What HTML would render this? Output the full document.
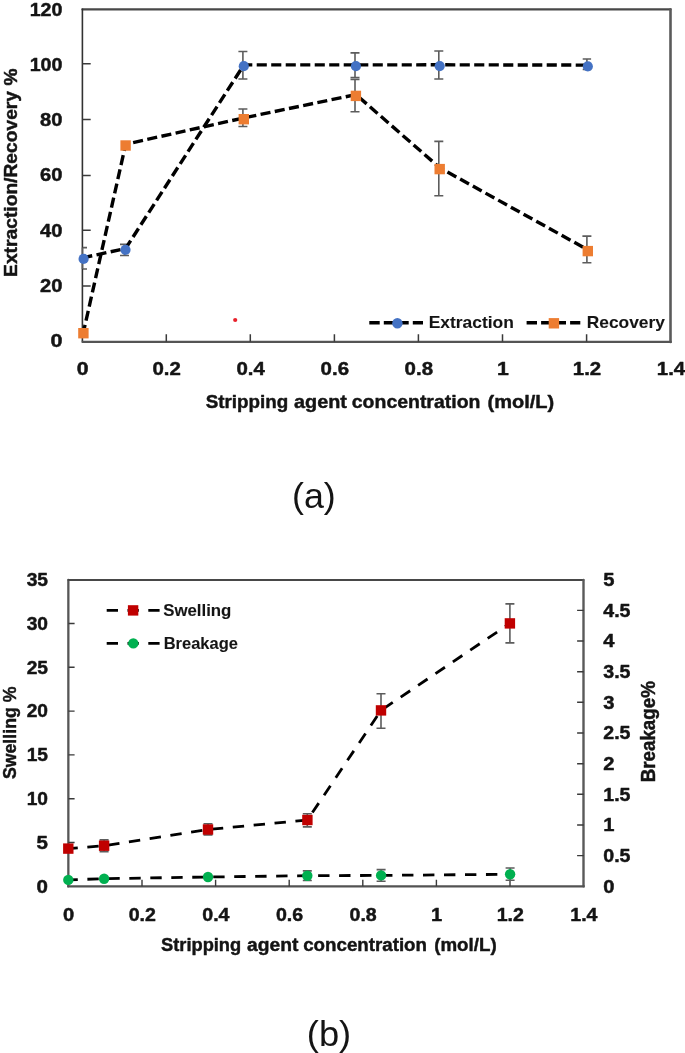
<!DOCTYPE html>
<html><head><meta charset="utf-8"><title>Figure</title>
<style>html,body{margin:0;padding:0;background:#fff}svg{display:block;filter:blur(0.65px)}text{font-family:"Liberation Sans",sans-serif;fill:#141414}text[font-weight=bold]{stroke:#141414;stroke-width:.45px;stroke-linejoin:round}</style>
</head><body>
<svg width="685" height="1053" viewBox="0 0 685 1053">
<rect width="685" height="1053" fill="#fff"/>
<g id="chartA">
<path d="M82.4 9.4H670.5" stroke="#484848" stroke-width="2.1" fill="none" stroke-linecap="round"/>
<path d="M670.5 9.4V341.9" stroke="#5a5a5a" stroke-width="2.6" fill="none" stroke-linecap="round"/>
<path d="M82.4 8.4V341.7" stroke="#323232" stroke-width="1.6" fill="none"/>
<path d="M81.6 341.9H671.7" stroke="#545454" stroke-width="2.4" fill="none"/>
<path d="M82.4 286.1h8.3M82.4 230.2h8.3M82.4 175.6h8.3M82.4 119.6h8.3M82.4 63.7h8.3M166.3 341.7v-7.5M250.3 341.7v-7.5M334.4 341.7v-7.5M418.4 341.7v-7.5M502.5 341.7v-7.5M586.6 341.7v-7.5" stroke="#3a3a3a" stroke-width="1.5" fill="none"/>
<text x="62.5" y="347.4" font-size="17.8" font-weight="bold" text-anchor="end" textLength="12.0" lengthAdjust="spacingAndGlyphs">0</text>
<text x="62.5" y="292.0" font-size="17.8" font-weight="bold" text-anchor="end" textLength="22.4" lengthAdjust="spacingAndGlyphs">20</text>
<text x="62.5" y="236.7" font-size="17.8" font-weight="bold" text-anchor="end" textLength="22.4" lengthAdjust="spacingAndGlyphs">40</text>
<text x="62.5" y="181.3" font-size="17.8" font-weight="bold" text-anchor="end" textLength="22.4" lengthAdjust="spacingAndGlyphs">60</text>
<text x="62.5" y="126.0" font-size="17.8" font-weight="bold" text-anchor="end" textLength="22.4" lengthAdjust="spacingAndGlyphs">80</text>
<text x="62.5" y="70.6" font-size="17.8" font-weight="bold" text-anchor="end" textLength="32.8" lengthAdjust="spacingAndGlyphs">100</text>
<text x="62.5" y="16.0" font-size="17.8" font-weight="bold" text-anchor="end" textLength="32.8" lengthAdjust="spacingAndGlyphs">120</text>
<text x="82.6" y="374.8" font-size="17.8" font-weight="bold" text-anchor="middle" textLength="11.8" lengthAdjust="spacingAndGlyphs">0</text>
<text x="166.7" y="374.8" font-size="17.8" font-weight="bold" text-anchor="middle" textLength="28.4" lengthAdjust="spacingAndGlyphs">0.2</text>
<text x="250.7" y="374.8" font-size="17.8" font-weight="bold" text-anchor="middle" textLength="28.4" lengthAdjust="spacingAndGlyphs">0.4</text>
<text x="334.8" y="374.8" font-size="17.8" font-weight="bold" text-anchor="middle" textLength="28.4" lengthAdjust="spacingAndGlyphs">0.6</text>
<text x="418.8" y="374.8" font-size="17.8" font-weight="bold" text-anchor="middle" textLength="28.4" lengthAdjust="spacingAndGlyphs">0.8</text>
<text x="502.9" y="374.8" font-size="17.8" font-weight="bold" text-anchor="middle" textLength="11.8" lengthAdjust="spacingAndGlyphs">1</text>
<text x="587.0" y="374.8" font-size="17.8" font-weight="bold" text-anchor="middle" textLength="28.4" lengthAdjust="spacingAndGlyphs">1.2</text>
<text x="671.0" y="374.8" font-size="17.8" font-weight="bold" text-anchor="middle" textLength="28.4" lengthAdjust="spacingAndGlyphs">1.4</text>
<text x="205.7" y="408.2" font-size="19.0" font-weight="bold" text-anchor="start" textLength="82.5" lengthAdjust="spacingAndGlyphs">Stripping</text>
<text x="294.0" y="408.2" font-size="19.0" font-weight="bold" text-anchor="start" textLength="52.9" lengthAdjust="spacingAndGlyphs">agent</text>
<text x="351.8" y="408.2" font-size="19.0" font-weight="bold" text-anchor="start" textLength="128.6" lengthAdjust="spacingAndGlyphs">concentration</text>
<text x="487.5" y="408.2" font-size="19.0" font-weight="bold" text-anchor="start" textLength="66.7" lengthAdjust="spacingAndGlyphs">(mol/L)</text>
<text transform="translate(17.0 276.9) rotate(-90)" font-size="18.6" font-weight="bold" textLength="208.4" lengthAdjust="spacingAndGlyphs">Extraction/Recovery %</text>
<path d="M82.5 247.6V269.0M83.0 247.6H87.0M83.0 269.0H87.0" stroke="#5c5c5c" stroke-width="1.6" fill="none"/>
<path d="M124.5 244.4V255.5M120.0 244.4H129.0M120.0 255.5H129.0" stroke="#5c5c5c" stroke-width="1.6" fill="none"/>
<path d="M242.9 51.5V79.0M238.4 51.5H247.4M238.4 79.0H247.4" stroke="#5c5c5c" stroke-width="1.6" fill="none"/>
<path d="M355.0 52.9V77.6M350.5 52.9H359.5M350.5 77.6H359.5" stroke="#5c5c5c" stroke-width="1.6" fill="none"/>
<path d="M438.8 51.0V79.0M434.3 51.0H443.3M434.3 79.0H443.3" stroke="#5c5c5c" stroke-width="1.6" fill="none"/>
<path d="M586.9 59.0V69.5M582.7 59.0H591.1M582.7 69.5H591.1" stroke="#5c5c5c" stroke-width="1.6" fill="none"/>
<path d="M242.9 109.0V126.5M238.4 109.0H247.4M238.4 126.5H247.4" stroke="#5c5c5c" stroke-width="1.6" fill="none"/>
<path d="M355.0 79.5V111.8M350.5 79.5H359.5M350.5 111.8H359.5" stroke="#5c5c5c" stroke-width="1.6" fill="none"/>
<path d="M438.8 141.4V195.7M434.3 141.4H443.3M434.3 195.7H443.3" stroke="#5c5c5c" stroke-width="1.6" fill="none"/>
<path d="M586.9 236.1V262.8M582.4 236.1H591.4M582.4 262.8H591.4" stroke="#5c5c5c" stroke-width="1.6" fill="none"/>
<polyline points="83.2,258.9 125.1,249.8 243.4,66.2 355.5,66.2 439.3,66.1 587.4,66.4" transform="translate(0.5 -1.3)" fill="none" stroke="#000" stroke-width="3.4" stroke-dasharray="10.1 4.4" stroke-dashoffset="1.4" stroke-linejoin="round"/>
<polyline points="83.0,333.2 125.2,145.5 243.4,119.2 355.5,95.9 439.3,169.1 587.4,251.1" transform="translate(0.5 -1.3)" fill="none" stroke="#000" stroke-width="3.4" stroke-dasharray="10.1 4.4" stroke-dashoffset="3.0" stroke-linejoin="round"/>
<circle cx="83.6" cy="258.9" r="5.1" fill="#4472c4"/>
<circle cx="125.5" cy="249.8" r="5.1" fill="#4472c4"/>
<circle cx="243.8" cy="66.2" r="5.1" fill="#4472c4"/>
<circle cx="355.9" cy="66.2" r="5.1" fill="#4472c4"/>
<circle cx="439.7" cy="66.1" r="5.1" fill="#4472c4"/>
<circle cx="587.8" cy="66.4" r="5.1" fill="#4472c4"/>
<rect x="78.2" y="328.0" width="10.4" height="10.4" fill="#ed7d31"/>
<rect x="120.4" y="140.3" width="10.4" height="10.4" fill="#ed7d31"/>
<rect x="238.6" y="114.0" width="10.4" height="10.4" fill="#ed7d31"/>
<rect x="350.7" y="90.7" width="10.4" height="10.4" fill="#ed7d31"/>
<rect x="434.5" y="163.9" width="10.4" height="10.4" fill="#ed7d31"/>
<rect x="582.6" y="245.9" width="10.4" height="10.4" fill="#ed7d31"/>
<circle cx="235.2" cy="320" r="2.1" fill="#e8212b"/>
<path d="M369.3 322.8H423" stroke="#000" stroke-width="3.4" stroke-dasharray="10.4 4.1" fill="none"/>
<circle cx="397.4" cy="323.3" r="5.2" fill="#4472c4"/>
<text x="428.7" y="328.1" font-size="17" font-weight="bold" text-anchor="start" textLength="85.2" lengthAdjust="spacingAndGlyphs" style="stroke-width:.1px">Extraction</text>
<path d="M526.6 322.8H580.3" stroke="#000" stroke-width="3.4" stroke-dasharray="10.4 4.1" fill="none"/>
<rect x="548.7" y="318.1" width="10.4" height="10.4" fill="#ed7d31"/>
<text x="586.7" y="328.1" font-size="17" font-weight="bold" text-anchor="start" textLength="78.2" lengthAdjust="spacingAndGlyphs" style="stroke-width:.1px">Recovery</text>
</g>
<text x="313.9" y="508.2" font-size="35.2" font-weight="normal" text-anchor="middle" textLength="43.8" lengthAdjust="spacingAndGlyphs">(a)</text>
<g id="chartB">
<path d="M68.35 886.3V579.9" stroke="#565656" stroke-width="2.3" fill="none" stroke-linecap="round"/>
<path d="M68.35 579.9H583.5" stroke="#484848" stroke-width="2.0" fill="none" stroke-linecap="round"/>
<path d="M583.5 579.9V886.3" stroke="#5a5a5a" stroke-width="2.4" fill="none" stroke-linecap="round"/>
<path d="M67.2 886.3H584.7" stroke="#525252" stroke-width="2.2" fill="none"/>
<path d="M68.4 842.5h6.2M68.4 798.7h6.2M68.4 754.9h6.2M68.4 711.1h6.2M68.4 667.3h6.2M68.4 623.5h6.2M583.7 855.6h-6.6M583.7 825.0h-6.6M583.7 794.3h-6.6M583.7 763.7h-6.6M583.7 733.0h-6.6M583.7 702.3h-6.6M583.7 671.7h-6.6M583.7 641.0h-6.6M583.7 610.4h-6.6M142.0 886.3v-6.5M215.6 886.3v-6.5M289.2 886.3v-6.5M362.8 886.3v-6.5M436.4 886.3v-6.5M510.0 886.3v-6.5" stroke="#3a3a3a" stroke-width="1.4" fill="none"/>
<text x="48.0" y="892.9" font-size="17.8" font-weight="bold" text-anchor="end" textLength="11.4" lengthAdjust="spacingAndGlyphs">0</text>
<text x="48.0" y="849.0" font-size="17.8" font-weight="bold" text-anchor="end" textLength="11.4" lengthAdjust="spacingAndGlyphs">5</text>
<text x="48.0" y="805.1" font-size="17.8" font-weight="bold" text-anchor="end" textLength="21.3" lengthAdjust="spacingAndGlyphs">10</text>
<text x="48.0" y="761.3" font-size="17.8" font-weight="bold" text-anchor="end" textLength="21.3" lengthAdjust="spacingAndGlyphs">15</text>
<text x="48.0" y="717.4" font-size="17.8" font-weight="bold" text-anchor="end" textLength="21.3" lengthAdjust="spacingAndGlyphs">20</text>
<text x="48.0" y="673.5" font-size="17.8" font-weight="bold" text-anchor="end" textLength="21.3" lengthAdjust="spacingAndGlyphs">25</text>
<text x="48.0" y="629.6" font-size="17.8" font-weight="bold" text-anchor="end" textLength="21.3" lengthAdjust="spacingAndGlyphs">30</text>
<text x="48.0" y="585.8" font-size="17.8" font-weight="bold" text-anchor="end" textLength="21.3" lengthAdjust="spacingAndGlyphs">35</text>
<text x="603.3" y="892.8" font-size="17.8" font-weight="bold" text-anchor="start" textLength="11.2" lengthAdjust="spacingAndGlyphs">0</text>
<text x="603.3" y="862.1" font-size="17.8" font-weight="bold" text-anchor="start" textLength="27.2" lengthAdjust="spacingAndGlyphs">0.5</text>
<text x="603.3" y="831.4" font-size="17.8" font-weight="bold" text-anchor="start" textLength="11.2" lengthAdjust="spacingAndGlyphs">1</text>
<text x="603.3" y="800.7" font-size="17.8" font-weight="bold" text-anchor="start" textLength="27.2" lengthAdjust="spacingAndGlyphs">1.5</text>
<text x="603.3" y="770.0" font-size="17.8" font-weight="bold" text-anchor="start" textLength="11.2" lengthAdjust="spacingAndGlyphs">2</text>
<text x="603.3" y="739.3" font-size="17.8" font-weight="bold" text-anchor="start" textLength="27.2" lengthAdjust="spacingAndGlyphs">2.5</text>
<text x="603.3" y="708.6" font-size="17.8" font-weight="bold" text-anchor="start" textLength="11.2" lengthAdjust="spacingAndGlyphs">3</text>
<text x="603.3" y="677.9" font-size="17.8" font-weight="bold" text-anchor="start" textLength="27.2" lengthAdjust="spacingAndGlyphs">3.5</text>
<text x="603.3" y="647.2" font-size="17.8" font-weight="bold" text-anchor="start" textLength="11.2" lengthAdjust="spacingAndGlyphs">4</text>
<text x="603.3" y="616.5" font-size="17.8" font-weight="bold" text-anchor="start" textLength="27.2" lengthAdjust="spacingAndGlyphs">4.5</text>
<text x="603.3" y="585.8" font-size="17.8" font-weight="bold" text-anchor="start" textLength="11.2" lengthAdjust="spacingAndGlyphs">5</text>
<text x="68.7" y="920.7" font-size="17.8" font-weight="bold" text-anchor="middle" textLength="11.2" lengthAdjust="spacingAndGlyphs">0</text>
<text x="142.3" y="920.7" font-size="17.8" font-weight="bold" text-anchor="middle" textLength="27.2" lengthAdjust="spacingAndGlyphs">0.2</text>
<text x="215.9" y="920.7" font-size="17.8" font-weight="bold" text-anchor="middle" textLength="27.2" lengthAdjust="spacingAndGlyphs">0.4</text>
<text x="289.5" y="920.7" font-size="17.8" font-weight="bold" text-anchor="middle" textLength="27.2" lengthAdjust="spacingAndGlyphs">0.6</text>
<text x="363.1" y="920.7" font-size="17.8" font-weight="bold" text-anchor="middle" textLength="27.2" lengthAdjust="spacingAndGlyphs">0.8</text>
<text x="436.7" y="920.7" font-size="17.8" font-weight="bold" text-anchor="middle" textLength="11.2" lengthAdjust="spacingAndGlyphs">1</text>
<text x="510.3" y="920.7" font-size="17.8" font-weight="bold" text-anchor="middle" textLength="27.2" lengthAdjust="spacingAndGlyphs">1.2</text>
<text x="583.9" y="920.7" font-size="17.8" font-weight="bold" text-anchor="middle" textLength="27.2" lengthAdjust="spacingAndGlyphs">1.4</text>
<text x="161.0" y="951.0" font-size="18.8" font-weight="bold" text-anchor="start" textLength="80.2" lengthAdjust="spacingAndGlyphs">Stripping</text>
<text x="247.1" y="951.0" font-size="18.8" font-weight="bold" text-anchor="start" textLength="51.3" lengthAdjust="spacingAndGlyphs">agent</text>
<text x="303.2" y="951.0" font-size="18.8" font-weight="bold" text-anchor="start" textLength="123.8" lengthAdjust="spacingAndGlyphs">concentration</text>
<text x="434.2" y="951.0" font-size="18.8" font-weight="bold" text-anchor="start" textLength="62.5" lengthAdjust="spacingAndGlyphs">(mol/L)</text>
<text transform="translate(15.5 779.1) rotate(-90)" font-size="19.2" font-weight="bold" textLength="92.6" lengthAdjust="spacingAndGlyphs">Swelling %</text>
<text transform="translate(654.9 782.2) rotate(-90)" font-size="19.6" font-weight="bold" textLength="101" lengthAdjust="spacingAndGlyphs">Breakage%</text>
<path d="M104.1 839.9V851.6M99.6 839.9H108.6M99.6 851.6H108.6" stroke="#5c5c5c" stroke-width="1.6" fill="none"/>
<path d="M208.0 823.8V834.9M203.5 823.8H212.5M203.5 834.9H212.5" stroke="#5c5c5c" stroke-width="1.6" fill="none"/>
<path d="M307.3 813.8V826.9M302.8 813.8H311.8M302.8 826.9H311.8" stroke="#5c5c5c" stroke-width="1.6" fill="none"/>
<path d="M381.0 693.8V728.2M376.5 693.8H385.5M376.5 728.2H385.5" stroke="#5c5c5c" stroke-width="1.6" fill="none"/>
<path d="M509.9 603.9V642.9M505.4 603.9H514.4M505.4 642.9H514.4" stroke="#5c5c5c" stroke-width="1.6" fill="none"/>
<path d="M307.3 870.9V880.5M302.8 870.9H311.8M302.8 880.5H311.8" stroke="#5c5c5c" stroke-width="1.6" fill="none"/>
<path d="M381.1 869.6V881.2M376.6 869.6H385.6M376.6 881.2H385.6" stroke="#5c5c5c" stroke-width="1.6" fill="none"/>
<path d="M510.1 868.0V880.3M505.6 868.0H514.6M505.6 880.3H514.6" stroke="#5c5c5c" stroke-width="1.6" fill="none"/>
<polyline points="68.3,848.6 104.1,845.7 208.0,829.5 307.4,820.0 381.0,710.4 509.9,623.4" fill="none" stroke="#000" stroke-width="2.8" stroke-dasharray="11.4 9.58" stroke-dashoffset="1.9" stroke-linejoin="round"/>
<polyline points="68.3,879.9 104.1,878.7 208.0,877.0 307.3,875.7 381.1,875.4 510.1,874.3" fill="none" stroke="#000" stroke-width="2.8" stroke-dasharray="11.4 9.58" stroke-dashoffset="1.9" stroke-linejoin="round"/>
<rect x="63.1" y="843.4" width="10.4" height="10.4" fill="#c00000"/>
<rect x="98.9" y="840.5" width="10.4" height="10.4" fill="#c00000"/>
<rect x="202.8" y="824.3" width="10.4" height="10.4" fill="#c00000"/>
<rect x="302.2" y="814.8" width="10.4" height="10.4" fill="#c00000"/>
<rect x="375.8" y="705.2" width="10.4" height="10.4" fill="#c00000"/>
<rect x="504.7" y="618.2" width="10.4" height="10.4" fill="#c00000"/>
<circle cx="68.3" cy="879.9" r="5.2" fill="#00b050"/>
<circle cx="104.1" cy="878.7" r="5.2" fill="#00b050"/>
<circle cx="208.0" cy="877.0" r="5.2" fill="#00b050"/>
<circle cx="307.3" cy="875.7" r="5.2" fill="#00b050"/>
<circle cx="381.1" cy="875.4" r="5.2" fill="#00b050"/>
<circle cx="510.1" cy="874.3" r="5.2" fill="#00b050"/>
<path d="M106.7 610.4H159.6" stroke="#000" stroke-width="2.8" stroke-dasharray="11.3 9.5" fill="none"/>
<rect x="127.9" y="605.2" width="10.4" height="10.4" fill="#c00000"/>
<text x="163.2" y="615.6" font-size="17" font-weight="bold" text-anchor="start" textLength="68.2" lengthAdjust="spacingAndGlyphs" style="stroke-width:.1px">Swelling</text>
<path d="M106.7 643.4H159.6" stroke="#000" stroke-width="2.8" stroke-dasharray="11.3 9.5" fill="none"/>
<circle cx="133.3" cy="643.4" r="5.2" fill="#00b050"/>
<text x="163.7" y="648.7" font-size="17" font-weight="bold" text-anchor="start" textLength="74.2" lengthAdjust="spacingAndGlyphs" style="stroke-width:.1px">Breakage</text>
</g>
<text x="329.0" y="1045.9" font-size="35.2" font-weight="normal" text-anchor="middle" textLength="44.4" lengthAdjust="spacingAndGlyphs">(b)</text>
</svg></body></html>
